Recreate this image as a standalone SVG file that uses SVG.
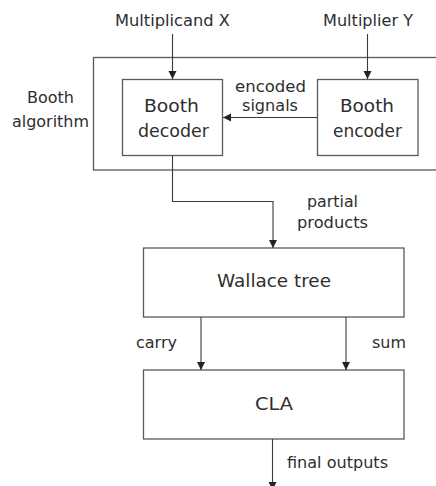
<svg xmlns="http://www.w3.org/2000/svg" width="436" height="486" viewBox="0 0 436 486">
<style>
text{font-family:"DejaVu Sans","Liberation Sans",Arial,sans-serif;fill:#2e2e2e}
.s{font-size:15px}
.b{font-size:18.5px}
.box{fill:#fff;stroke:#5a5a5a;stroke-width:1.3}
.ln{fill:none;stroke:#3a3a3a;stroke-width:1.1}
</style>
<defs>
<marker id="ah" viewBox="0 0 8 10" refX="8" refY="5" markerWidth="8" markerHeight="10" markerUnits="userSpaceOnUse" orient="auto">
<path d="M0,1 L8,5 L0,9 Z" fill="#222"/>
</marker>
</defs>
<rect width="436" height="486" fill="#fff"/>
<g id="booth-algorithm">
<rect class="box" x="93.5" y="57.5" width="360" height="112.5"/>
<text class="s" x="27" y="103" textLength="47" lengthAdjust="spacingAndGlyphs">Booth</text>
<text class="s" x="12" y="127" textLength="77" lengthAdjust="spacingAndGlyphs">algorithm</text>
</g>
<g id="booth-decoder">
<rect class="box" x="122.5" y="79.5" width="100" height="76"/>
<text class="b" x="144" y="112" textLength="55" lengthAdjust="spacingAndGlyphs">Booth</text>
<text class="b" x="138" y="137" textLength="71" lengthAdjust="spacingAndGlyphs">decoder</text>
</g>
<g id="booth-encoder">
<rect class="box" x="317.5" y="79.5" width="100.5" height="76"/>
<text class="b" x="340" y="112" textLength="54" lengthAdjust="spacingAndGlyphs">Booth</text>
<text class="b" x="333" y="137" textLength="69" lengthAdjust="spacingAndGlyphs">encoder</text>
</g>
<g id="wallace-tree">
<rect class="box" x="143.5" y="248" width="260.5" height="69"/>
<text class="b" x="217" y="287" textLength="114" lengthAdjust="spacingAndGlyphs">Wallace tree</text>
</g>
<g id="cla">
<rect class="box" x="143.5" y="370" width="260.5" height="69"/>
<text class="b" x="255" y="410" textLength="38" lengthAdjust="spacingAndGlyphs">CLA</text>
</g>
<g id="connectors">
<path class="ln" d="M172.5,34 V79" marker-end="url(#ah)"/>
<path class="ln" d="M367.5,34 V79" marker-end="url(#ah)"/>
<path class="ln" d="M317,117.5 H223" marker-end="url(#ah)"/>
<path class="ln" d="M172.5,156 V201.5 H273 V248" marker-end="url(#ah)"/>
<path class="ln" d="M201,317 V370" marker-end="url(#ah)"/>
<path class="ln" d="M346,317 V370" marker-end="url(#ah)"/>
<path class="ln" d="M272.5,439 V490" marker-end="url(#ah)"/>
</g>
<g id="labels">
<text class="s" x="115" y="26" textLength="115" lengthAdjust="spacingAndGlyphs">Multiplicand X</text>
<text class="s" x="323" y="26" textLength="90" lengthAdjust="spacingAndGlyphs">Multiplier Y</text>
<text class="s" x="235" y="92" textLength="71" lengthAdjust="spacingAndGlyphs">encoded</text>
<text class="s" x="242" y="111" textLength="56" lengthAdjust="spacingAndGlyphs">signals</text>
<text class="s" x="307" y="207" textLength="51" lengthAdjust="spacingAndGlyphs">partial</text>
<text class="s" x="297" y="228" textLength="71" lengthAdjust="spacingAndGlyphs">products</text>
<text class="s" x="136" y="348" textLength="41" lengthAdjust="spacingAndGlyphs">carry</text>
<text class="s" x="372" y="348" textLength="34" lengthAdjust="spacingAndGlyphs">sum</text>
<text class="s" x="287" y="468" textLength="101" lengthAdjust="spacingAndGlyphs">final outputs</text>
</g>
</svg>
